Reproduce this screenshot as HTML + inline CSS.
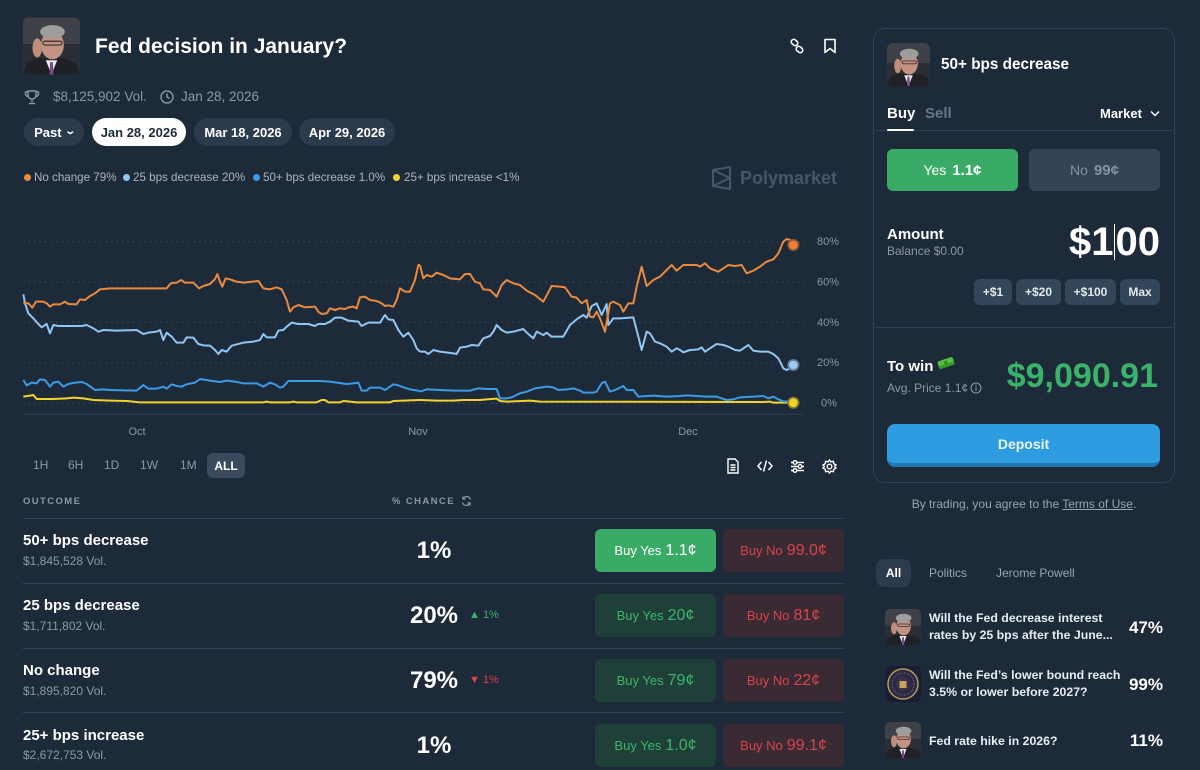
<!DOCTYPE html>
<html><head><meta charset="utf-8">
<style>
*{margin:0;padding:0;box-sizing:border-box}
html,body{width:1200px;height:770px;overflow:hidden;background:#1d2a39;font-family:"Liberation Sans",Arial,sans-serif;color:#fff}
.t{position:absolute;white-space:nowrap;line-height:1}
.g{color:#8b98a8}
.b{font-weight:bold}
.pill{position:absolute;height:28px;border-radius:14px;background:#2c3b4c;font-size:13px;font-weight:bold;display:flex;align-items:center;justify-content:center;color:#fff}
.btn{position:absolute;border-radius:6px;display:flex;align-items:center;justify-content:center;white-space:nowrap}
.ys{background:#1f4038;color:#3db46b}
.no{background:#392a33;color:#d8444b}
.btn .s{font-size:13px;margin-right:4px}
.btn .p{font-size:16px}
.sep{position:absolute;height:1px;background:#34465a}
.qb{position:absolute;top:279px;height:26px;border-radius:6px;background:#34465a;color:#e2e8ee;font-size:12px;font-weight:bold;display:flex;align-items:center;justify-content:center}
.ld{position:absolute;top:174px;width:7px;height:7px;border-radius:50%}
.lt{position:absolute;top:171.5px;font-size:11.6px;color:#aab5c2;white-space:nowrap;line-height:1}
svg{position:absolute}
</style></head><body>
<svg width="0" height="0" style="position:absolute">
<defs>
<symbol id="pw" viewBox="0 0 60 60">
<rect width="60" height="60" fill="#2b2e34"/>
<rect width="60" height="28" fill="#3e4248"/>
<path d="M0 60 L4 48 Q18 40 30 44 Q42 40 56 48 L60 60Z" fill="#1f2127"/>
<polygon points="24,45 36,45 30,60" fill="#e8e8e8"/>
<polygon points="28.5,47 31.5,47 32,60 28,60" fill="#7c4b8d"/>
<ellipse cx="31" cy="29" rx="12" ry="15" fill="#c49282"/>
<ellipse cx="31" cy="15" rx="13" ry="7" fill="#9d9d9d"/>
<rect x="21" y="25" width="20" height="4" rx="2" fill="none" stroke="#333" stroke-width="1.2"/>
<ellipse cx="15" cy="32" rx="5" ry="10" fill="#c08d78"/>
</symbol>
</defs>
</svg>

<!-- Header -->
<svg style="left:23px;top:17px;border-radius:6px;overflow:hidden" width="57" height="58"><use href="#pw" width="57" height="58"/></svg>
<div class="t b" style="left:95px;top:35.7px;font-size:21px">Fed decision in January?</div>
<svg style="left:789px;top:38px" width="16" height="16" viewBox="0 0 16 16"><g fill="none" stroke="#fff" stroke-width="1.6"><rect x="2" y="2" width="7" height="5" rx="2.5" transform="rotate(40 5.5 4.5)"/><rect x="7" y="9" width="7" height="5" rx="2.5" transform="rotate(40 10.5 11.5)"/></g></svg>
<svg style="left:823px;top:38px" width="14" height="16" viewBox="0 0 14 16"><path d="M2 1.5H12V14.5L7 10.5L2 14.5Z" fill="none" stroke="#fff" stroke-width="1.6" stroke-linejoin="round"/></svg>

<svg style="left:24px;top:90px" width="16" height="15" viewBox="0 0 16 15"><g fill="none" stroke="#8b98a8" stroke-width="1.4"><path d="M4 1H12V5A4 4 0 0 1 4 5Z"/><path d="M4 2H1.5V4A2.5 2.5 0 0 0 4 6.5M12 2H14.5V4A2.5 2.5 0 0 1 12 6.5"/><path d="M8 9V12M5 13.5H11"/></g></svg>
<div class="t g" style="left:53px;top:90.4px;font-size:13.5px">$8,125,902 Vol.</div>
<svg style="left:160px;top:90px" width="14" height="14" viewBox="0 0 14 14"><g fill="none" stroke="#8b98a8" stroke-width="1.4"><circle cx="7" cy="7" r="6"/><path d="M7 3.5V7L9.5 8.5"/></g></svg>
<div class="t g" style="left:181px;top:90.4px;font-size:13.5px">Jan 28, 2026</div>

<div class="pill" style="left:24px;top:118px;width:60px">Past <span style="font-size:10px;margin-left:4px;transform:scaleX(1.4) translateY(-1px);display:inline-block">&#8964;</span></div>
<div class="pill" style="left:92px;top:118px;width:94px;background:#fff;color:#1d2a39">Jan 28, 2026</div>
<div class="pill" style="left:194px;top:118px;width:98px">Mar 18, 2026</div>
<div class="pill" style="left:299px;top:118px;width:96px">Apr 29, 2026</div>

<!-- Legend -->
<div class="ld" style="left:23.5px;background:#f08a3c"></div>
<div class="lt" style="left:34px">No change 79%</div>
<div class="ld" style="left:122.5px;background:#93c8f4"></div>
<div class="lt" style="left:133px">25 bps decrease 20%</div>
<div class="ld" style="left:252.5px;background:#3d9be6"></div>
<div class="lt" style="left:263px">50+ bps decrease 1.0%</div>
<div class="ld" style="left:392.5px;background:#f2d22e"></div>
<div class="lt" style="left:404px">25+ bps increase &lt;1%</div>

<svg style="left:711px;top:166px" width="21" height="24" viewBox="0 0 21 24"><path d="M2 4L19 1V23L2 20Z M2 4L19 12L2 20" fill="none" stroke="#475669" stroke-width="2" stroke-linejoin="round"/></svg>
<div class="t b" style="left:740px;top:169.2px;font-size:18px;color:#475669">Polymarket</div>

<!-- Chart -->
<svg style="left:0;top:200px" width="850" height="250" viewBox="0 200 850 250">
<g stroke="#3b4a5c" stroke-width="1" stroke-dasharray="1.5 4">
<line x1="23" y1="241.7" x2="808" y2="241.7"/>
<line x1="23" y1="282" x2="808" y2="282"/>
<line x1="23" y1="322.3" x2="808" y2="322.3"/>
<line x1="23" y1="363" x2="808" y2="363"/>
<line x1="23" y1="403.3" x2="808" y2="403.3"/>
</g>
<line x1="23" y1="414.3" x2="803" y2="414.3" stroke="#2f3e4f" stroke-width="1.2"/>
<g fill="none" stroke-width="2" stroke-linejoin="round">
<g transform="translate(0,200) scale(0.33333)">
<polyline vector-effect="non-scaling-stroke" stroke="#f3d22c" points="70,590 90,587 100,585 110,597 160,597 200,595 220,593 250,595 280,600 330,602 380,603 420,607 790,607 800,605 810,607 870,607 880,605 890,607 950,607 965,600 975,600 985,607 1020,607 1030,603 1050,605 1070,607 1170,607 1180,603 1260,600"/>
<polyline vector-effect="non-scaling-stroke" stroke="#3d9ae4" points="70,540 80,556 95,548 110,550 120,538 135,540 150,560 160,548 175,545 190,560 205,552 225,548 245,546 260,552 285,570 310,568 330,570 410,572 430,555 445,566 470,566 490,560 500,566 515,553 530,558 545,560 560,553 585,548 600,537 630,542 660,546 680,542 705,545 730,550 770,550 790,560 810,548 825,553 840,563 850,560 865,543 960,543 990,545 1010,548 1040,552 1060,550 1075,548 1085,572 1100,572 1110,563 1140,563 1155,570 1180,553 1195,556 1210,562 1230,568 1260,573"/>
<polyline vector-effect="non-scaling-stroke" stroke="#92c6f2" points="70,283 75,310 85,340 100,355 115,372 125,382 140,372 150,400 160,375 175,378 245,378 260,375 280,385 295,395 310,390 350,392 410,390 430,402 445,398 470,395 480,390 490,420 500,398 515,410 530,428 550,428 560,412 580,413 595,432 610,436 630,437 645,450 655,462 665,450 680,455 695,437 730,428 760,425 780,420 790,402 800,412 825,412 835,392 850,390 860,380 875,368 895,372 925,372 945,378 955,372 975,372 990,365 1005,353 1025,353 1045,362 1075,365 1085,378 1105,368 1140,368 1155,345 1165,358 1180,360 1195,390 1210,410 1225,398 1240,420 1250,445 1260,455"/>
<polyline vector-effect="non-scaling-stroke" stroke="#e98a3e" points="70,308 85,310 97,323 108,305 130,305 140,310 150,320 160,313 180,313 195,305 205,312 230,313 240,298 255,300 270,288 285,280 300,268 330,265 500,265 512,250 530,248 543,240 555,248 580,248 597,265 610,258 630,252 645,237 652,222 660,245 667,260 677,235 690,238 710,245 730,248 775,243 790,265 810,268 830,262 845,268 860,300 870,335 880,322 895,315 915,322 945,320 955,335 965,342 980,340 990,325 1005,330 1020,325 1035,327 1045,322 1060,320 1070,325 1080,292 1095,290 1110,300 1130,303 1145,310 1155,318 1165,316 1180,320 1190,300 1200,265 1215,275 1230,275 1245,240 1255,195 1260,195"/>
</g>
<g transform="translate(420,200) scale(0.33333)">
<polyline vector-effect="non-scaling-stroke" stroke="#f3d22c" points="0,600 50,602 100,602 130,600 180,600 200,598 230,596 240,603 260,605 330,602 360,605 1030,606 1050,605 1060,608 1120,608"/>
<polyline vector-effect="non-scaling-stroke" stroke="#3d9ae4" points="0,575 20,568 60,570 100,572 150,572 175,565 200,567 230,567 240,595 260,595 275,592 300,580 320,575 345,565 380,560 400,562 415,570 440,568 460,565 480,572 490,578 520,578 530,575 545,550 555,545 570,575 590,568 610,558 620,570 640,570 655,590 700,587 740,590 780,588 800,586 860,590 890,590 920,600 940,598 960,592 1000,590 1030,588 1045,595 1060,590 1075,598 1090,604 1120,606"/>
<polyline vector-effect="non-scaling-stroke" stroke="#92c6f2" points="0,455 15,455 25,462 40,450 60,455 100,460 110,462 120,443 140,440 155,435 175,437 190,415 210,408 220,395 230,375 245,390 260,398 280,395 310,387 320,398 340,415 350,395 360,400 370,405 380,398 395,410 430,410 450,375 470,358 490,345 500,353 515,318 530,310 545,345 560,312 565,375 580,355 600,355 640,352 655,410 665,450 680,395 690,400 705,425 720,430 740,440 755,455 770,445 780,450 790,457 810,450 835,448 845,442 855,455 870,445 890,432 910,435 925,440 945,450 960,452 985,435 1000,452 1020,455 1045,455 1060,462 1075,475 1090,505 1100,510 1110,505 1120,495"/>
<polyline vector-effect="non-scaling-stroke" stroke="#e98a3e" points="0,195 10,235 20,225 35,230 50,218 70,225 90,235 120,238 135,222 150,222 165,245 180,250 190,268 210,270 230,290 245,255 260,240 280,250 300,255 320,272 345,285 370,305 395,258 420,260 435,262 455,290 470,293 485,310 500,300 510,350 520,352 530,335 540,355 555,395 570,310 580,305 590,310 600,315 610,335 625,310 640,310 650,260 665,200 680,258 700,240 720,230 740,210 755,195 770,212 790,195 830,195 840,200 855,190 870,205 895,215 925,195 945,198 965,195 980,220 1000,212 1020,200 1040,185 1060,178 1075,160 1090,125 1100,117 1110,120 1120,135"/>
</g>
</g>
<circle cx="793.3" cy="245" r="6" fill="#8a5a3a"/><circle cx="793.3" cy="245" r="4.3" fill="#f47f2f"/>
<circle cx="793.3" cy="365" r="6" fill="#5b7ea0"/><circle cx="793.3" cy="365" r="4.3" fill="#9cc9f3"/>
<circle cx="793.3" cy="402.7" r="6" fill="#8c7d2c"/><circle cx="793.3" cy="402.7" r="4.3" fill="#f3d22c"/>
<g font-family="Liberation Sans, Arial, sans-serif" font-size="11" fill="#8b98a8">
<text x="817" y="245">80%</text>
<text x="817" y="285.5">60%</text>
<text x="817" y="326">40%</text>
<text x="817" y="366">20%</text>
<text x="821" y="406.5">0%</text>
<text x="137" y="435" text-anchor="middle">Oct</text>
<text x="418" y="435" text-anchor="middle">Nov</text>
<text x="688" y="435" text-anchor="middle">Dec</text>
</g>
</svg>

<!-- Time range -->
<div class="t g" style="left:33px;top:459px;font-size:12px">1H</div>
<div class="t g" style="left:68px;top:459px;font-size:12px">6H</div>
<div class="t g" style="left:104px;top:459px;font-size:12px">1D</div>
<div class="t g" style="left:140px;top:459px;font-size:12px">1W</div>
<div class="t g" style="left:180px;top:459px;font-size:12px">1M</div>
<div class="btn b" style="left:207px;top:453px;width:38px;height:25px;background:#3a4a5e;font-size:12px;color:#fff">ALL</div>

<svg style="left:727px;top:458px" width="12" height="16" viewBox="0 0 12 16"><g fill="none" stroke="#fff" stroke-width="1.4"><path d="M1 1H8L11 4V15H1Z"/><path d="M3.5 7H8.5M3.5 9.5H8.5M3.5 12H8.5"/></g></svg>
<svg style="left:757px;top:459px" width="16" height="14" viewBox="0 0 16 14"><g fill="none" stroke="#fff" stroke-width="1.5"><path d="M4.5 3L1 7L4.5 11M11.5 3L15 7L11.5 11M9.5 1.5L6.5 12.5"/></g></svg>
<svg style="left:790px;top:459px" width="15" height="15" viewBox="0 0 15 15"><g fill="none" stroke="#fff" stroke-width="1.4"><path d="M1 3.5H14M1 11.5H14M1 7.5H14"/><circle cx="5" cy="3.5" r="1.8" fill="#1d2a39"/><circle cx="10" cy="7.5" r="1.8" fill="#1d2a39"/><circle cx="5" cy="11.5" r="1.8" fill="#1d2a39"/></g></svg>
<svg style="left:822px;top:459px" width="15" height="15" viewBox="0 0 15 15"><g fill="none" stroke="#fff" stroke-width="1.4"><circle cx="7.5" cy="7.5" r="2.3"/><path d="M7.5 1L9 2.8L11.4 2.3L11.8 4.7L14 6L12.6 7.5L14 9L11.8 10.3L11.4 12.7L9 12.2L7.5 14L6 12.2L3.6 12.7L3.2 10.3L1 9L2.4 7.5L1 6L3.2 4.7L3.6 2.3L6 2.8Z"/></g></svg>

<!-- Table -->
<div class="t g b" style="left:23px;top:496.5px;font-size:9.5px;letter-spacing:1.4px;font-weight:bold">OUTCOME</div>
<div class="t g b" style="left:392px;top:496.5px;font-size:9.5px;letter-spacing:1.4px">% CHANCE</div>
<svg style="left:461px;top:495px" width="11" height="12" viewBox="0 0 11 12"><g fill="none" stroke="#8b98a8" stroke-width="1.3"><path d="M9.5 4.5A4 4 0 0 0 2 4M1.5 7.5A4 4 0 0 0 9 8"/><path d="M2 1.5V4H4.5M9 10.5V8H6.5"/></g></svg>

<div class="sep" style="left:23px;top:518px;width:820px"></div>
<div class="sep" style="left:23px;top:583px;width:820px"></div>
<div class="sep" style="left:23px;top:648px;width:820px"></div>
<div class="sep" style="left:23px;top:712px;width:820px"></div>

<div class="t b" style="left:23px;top:532.6px;font-size:15px">50+ bps decrease</div>
<div class="t g" style="left:23px;top:555px;font-size:12px">$1,845,528 Vol.</div>
<div class="t b" style="left:374px;top:538.5px;width:120px;text-align:center;font-size:24px">1%</div>
<div class="btn" style="left:595px;top:529px;width:121px;height:43px;background:#3aab66;color:#fff"><span class="s">Buy Yes</span><span class="p">1.1¢</span></div>
<div class="btn no" style="left:723px;top:529px;width:121px;height:43px"><span class="s">Buy No</span><span class="p">99.0¢</span></div>

<div class="t b" style="left:23px;top:597.6px;font-size:15px">25 bps decrease</div>
<div class="t g" style="left:23px;top:620px;font-size:12px">$1,711,802 Vol.</div>
<div class="t b" style="left:374px;top:603.5px;width:120px;text-align:center;font-size:24px">20%</div>
<div class="t" style="left:469px;top:610px;font-size:11px;color:#3db46b">▲ 1%</div>
<div class="btn ys" style="left:595px;top:594px;width:121px;height:43px"><span class="s">Buy Yes</span><span class="p">20¢</span></div>
<div class="btn no" style="left:723px;top:594px;width:121px;height:43px"><span class="s">Buy No</span><span class="p">81¢</span></div>

<div class="t b" style="left:23px;top:662.6px;font-size:15px">No change</div>
<div class="t g" style="left:23px;top:685px;font-size:12px">$1,895,820 Vol.</div>
<div class="t b" style="left:374px;top:668.5px;width:120px;text-align:center;font-size:24px">79%</div>
<div class="t" style="left:469px;top:675px;font-size:11px;color:#d8444b">▼ 1%</div>
<div class="btn ys" style="left:595px;top:659px;width:121px;height:43px"><span class="s">Buy Yes</span><span class="p">79¢</span></div>
<div class="btn no" style="left:723px;top:659px;width:121px;height:43px"><span class="s">Buy No</span><span class="p">22¢</span></div>

<div class="t b" style="left:23px;top:727.6px;font-size:15px">25+ bps increase</div>
<div class="t g" style="left:23px;top:749px;font-size:12px">$2,672,753 Vol.</div>
<div class="t b" style="left:374px;top:733.5px;width:120px;text-align:center;font-size:24px">1%</div>
<div class="btn ys" style="left:595px;top:724px;width:121px;height:43px"><span class="s">Buy Yes</span><span class="p">1.0¢</span></div>
<div class="btn no" style="left:723px;top:724px;width:121px;height:43px"><span class="s">Buy No</span><span class="p">99.1¢</span></div>

<!-- Right card -->
<div style="position:absolute;left:873px;top:28px;width:302px;height:455px;border:1px solid #304052;border-radius:12px"></div>
<svg style="left:887px;top:43px;border-radius:6px;overflow:hidden" width="43" height="43"><use href="#pw" width="43" height="43"/></svg>
<div class="t b" style="left:941px;top:56.6px;font-size:15.3px">50+ bps decrease</div>
<div class="t b" style="left:887px;top:105.6px;font-size:15px">Buy</div>
<div class="t b" style="left:925px;top:105.6px;font-size:15px;color:#66768a">Sell</div>
<div style="position:absolute;left:873px;top:130px;width:302px;height:1px;background:#304052"></div>
<div style="position:absolute;left:887px;top:129px;width:27px;height:2px;background:#fff;border-radius:1px"></div>
<div class="t b" style="left:1100px;top:107px;font-size:13px">Market</div>
<svg style="left:1150px;top:110px" width="10" height="7" viewBox="0 0 10 7"><path d="M1 1.5L5 5.5L9 1.5" fill="none" stroke="#fff" stroke-width="1.4"/></svg>

<div class="btn" style="left:887px;top:149px;width:131px;height:42px;background:#3aab66;color:#fff"><span style="font-size:14px;margin-right:6px">Yes</span><span class="b" style="font-size:15px">1.1¢</span></div>
<div class="btn" style="left:1029px;top:149px;width:131px;height:42px;background:#344457;color:#8291a4"><span style="font-size:14px;margin-right:6px">No</span><span class="b" style="font-size:15px">99¢</span></div>

<div class="t b" style="left:887px;top:226.6px;font-size:15px">Amount</div>
<div class="t g" style="left:887px;top:245px;font-size:12px">Balance $0.00</div>
<div class="t b" style="left:1040px;top:222.4px;width:120px;text-align:right;font-size:40px">$1<span style="display:inline-block;width:1px;height:36px;background:#fff;vertical-align:-5px;margin:0 0.5px"></span>00</div>

<div class="qb" style="left:974px;width:38px">+$1</div>
<div class="qb" style="left:1016px;width:45px">+$20</div>
<div class="qb" style="left:1065px;width:51px">+$100</div>
<div class="qb" style="left:1120px;width:40px">Max</div>

<div style="position:absolute;left:873px;top:327px;width:302px;height:1px;background:#304052"></div>
<div class="t b" style="left:887px;top:358.6px;font-size:15px">To win</div>
<svg style="left:936px;top:356px" width="20" height="14" viewBox="0 0 20 14"><g transform="rotate(-18 10 7)"><rect x="2" y="3" width="16" height="8" rx="1.5" fill="#55c23e"/><rect x="2" y="8" width="16" height="3" rx="1" fill="#3a9a2c"/><circle cx="10" cy="6.5" r="1.8" fill="#2f8a25"/></g></svg>
<div class="t g" style="left:887px;top:382px;font-size:12px">Avg. Price 1.1¢</div>
<svg style="left:970px;top:382px" width="12" height="12" viewBox="0 0 12 12"><g fill="none" stroke="#8b98a8" stroke-width="1.1"><circle cx="6" cy="6" r="5"/><path d="M6 5V9"/></g><circle cx="6" cy="3.4" r="0.7" fill="#8b98a8"/></svg>
<div class="t b" style="left:958px;top:359.4px;width:200px;text-align:right;font-size:34px;color:#3bb26a">$9,090.91</div>

<div class="btn b" style="left:887px;top:424px;width:273px;height:43px;background:#2e9ce0;border-bottom:4px solid #1f78b4;border-radius:8px;font-size:14px;color:#e8f4fc">Deposit</div>

<div class="t" style="left:873px;top:498px;width:302px;text-align:center;font-size:12px;color:#98a5b3">By trading, you agree to the <span style="text-decoration:underline">Terms of Use</span>.</div>

<!-- Tabs -->
<div class="btn b" style="left:876px;top:559px;width:35px;height:28px;background:#2c3b4d;border-radius:8px;font-size:12px">All</div>
<div class="t" style="left:929px;top:567px;font-size:12px;color:#98a5b3">Politics</div>
<div class="t" style="left:996px;top:567px;font-size:12px;color:#98a5b3">Jerome Powell</div>

<svg style="left:885px;top:609px;border-radius:5px;overflow:hidden" width="36" height="36"><use href="#pw" width="36" height="36"/></svg>
<div class="t b" style="left:929px;top:612px;font-size:12.3px;color:#e8edf2">Will the Fed decrease interest</div>
<div class="t b" style="left:929px;top:629px;font-size:12.3px;color:#e8edf2">rates by 25 bps after the June...</div>
<div class="t b" style="left:1100px;top:618.7px;width:63px;text-align:right;font-size:17px">47%</div>

<svg style="left:885px;top:666px;border-radius:5px" width="36" height="36" viewBox="0 0 36 36"><rect width="36" height="36" rx="5" fill="#1b1e33"/><circle cx="18" cy="18" r="15" fill="#2a2a48" stroke="#b49a5c" stroke-width="1.5"/><circle cx="18" cy="18" r="11" fill="none" stroke="#8c7a4a" stroke-width="1" stroke-dasharray="1 1.5"/><circle cx="18" cy="18" r="7" fill="#3a3048"/><rect x="14.5" y="15" width="7" height="7" fill="#c7a35a"/></svg>
<div class="t b" style="left:929px;top:669px;font-size:12.3px;color:#e8edf2">Will the Fed’s lower bound reach</div>
<div class="t b" style="left:929px;top:686px;font-size:12.3px;color:#e8edf2">3.5% or lower before 2027?</div>
<div class="t b" style="left:1100px;top:675.7px;width:63px;text-align:right;font-size:17px">99%</div>

<svg style="left:885px;top:722px;border-radius:5px;overflow:hidden" width="36" height="36"><use href="#pw" width="36" height="36"/></svg>
<div class="t b" style="left:929px;top:735px;font-size:12.3px;color:#e8edf2">Fed rate hike in 2026?</div>
<div class="t b" style="left:1100px;top:731.7px;width:63px;text-align:right;font-size:17px">11%</div>

</body></html>
